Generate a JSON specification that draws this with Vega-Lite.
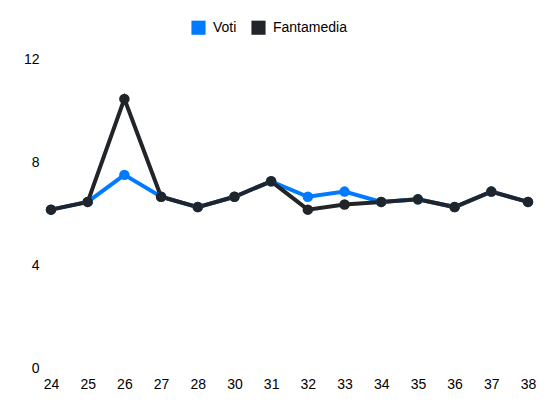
{
  "$schema": "https://vega.github.io/schema/vega-lite/v6.json",
  "autosize": "none",
  "width": 477,
  "height": 309,
  "padding": {"left": 51, "top": 59, "right": 22, "bottom": 44},
  "config": {
    "view": {"stroke": null},
    "font": "Liberation Sans",
    "axis": {"labelFont": "Liberation Sans", "labelFontSize": 14, "labelColor": "#000000"},
    "legend": {"labelFont": "Liberation Sans", "labelFontSize": 14, "labelColor": "#000000"}
  },
  "data": {
    "values": [
      {"giornata": 24, "serie": "Voti", "valore": 6.15},
      {"giornata": 25, "serie": "Voti", "valore": 6.45},
      {"giornata": 26, "serie": "Voti", "valore": 7.5},
      {"giornata": 27, "serie": "Voti", "valore": 6.65},
      {"giornata": 28, "serie": "Voti", "valore": 6.25},
      {"giornata": 30, "serie": "Voti", "valore": 6.65},
      {"giornata": 31, "serie": "Voti", "valore": 7.25},
      {"giornata": 32, "serie": "Voti", "valore": 6.65},
      {"giornata": 33, "serie": "Voti", "valore": 6.85},
      {"giornata": 34, "serie": "Voti", "valore": 6.45},
      {"giornata": 35, "serie": "Voti", "valore": 6.55},
      {"giornata": 36, "serie": "Voti", "valore": 6.25},
      {"giornata": 37, "serie": "Voti", "valore": 6.85},
      {"giornata": 38, "serie": "Voti", "valore": 6.45},
      {"giornata": 24, "serie": "Fantamedia", "valore": 6.15},
      {"giornata": 25, "serie": "Fantamedia", "valore": 6.45},
      {"giornata": 26, "serie": "Fantamedia", "valore": 10.45},
      {"giornata": 27, "serie": "Fantamedia", "valore": 6.65},
      {"giornata": 28, "serie": "Fantamedia", "valore": 6.25},
      {"giornata": 30, "serie": "Fantamedia", "valore": 6.65},
      {"giornata": 31, "serie": "Fantamedia", "valore": 7.25},
      {"giornata": 32, "serie": "Fantamedia", "valore": 6.15},
      {"giornata": 33, "serie": "Fantamedia", "valore": 6.35},
      {"giornata": 34, "serie": "Fantamedia", "valore": 6.45},
      {"giornata": 35, "serie": "Fantamedia", "valore": 6.55},
      {"giornata": 36, "serie": "Fantamedia", "valore": 6.25},
      {"giornata": 37, "serie": "Fantamedia", "valore": 6.85},
      {"giornata": 38, "serie": "Fantamedia", "valore": 6.45}
    ]
  },
  "encoding": {
    "x": {
      "field": "giornata",
      "type": "ordinal",
      "scale": {"type": "point", "padding": 0},
      "axis": {"title": null, "labelAngle": 0, "ticks": false, "domain": false, "grid": false, "labelPadding": 9}
    },
    "y": {
      "field": "valore",
      "type": "quantitative",
      "scale": {"domain": [0, 12], "nice": false},
      "axis": {"title": null, "values": [0, 4, 8, 12], "ticks": false, "domain": false, "grid": false, "labelPadding": 12}
    },
    "color": {
      "field": "serie",
      "type": "nominal",
      "sort": ["Voti", "Fantamedia"],
      "scale": {"domain": ["Voti", "Fantamedia"], "range": ["#007bff", "#212529"]},
      "legend": {
        "title": null,
        "orient": "none",
        "direction": "horizontal",
        "legendX": 140,
        "legendY": -39,
        "symbolType": "square",
        "symbolSize": 200,
        "symbolStrokeWidth": 0,
        "symbolOpacity": 1,
        "columnPadding": 14,
        "labelOffset": 7
      }
    }
  },
  "layer": [
    {"mark": {"type": "line", "strokeWidth": 4}},
    {"mark": {"type": "point", "filled": true, "size": 110, "opacity": 1}}
  ]
}
